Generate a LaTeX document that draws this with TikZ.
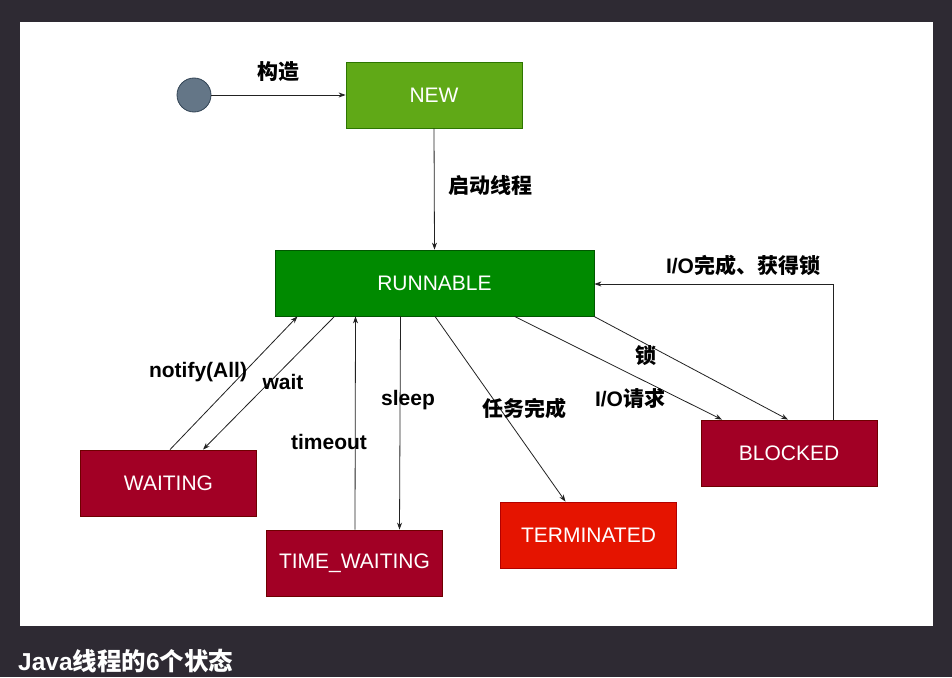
\documentclass[tikz,border=0pt]{standalone}
\usepackage{fontspec}
\setmainfont{Liberation Sans}
\newfontfamily\cjk{Noto Sans CJK SC}
\usetikzlibrary{arrows.meta}
\definecolor{bgdark}{HTML}{2E2A33}
\definecolor{newfill}{HTML}{60A917}
\definecolor{newdraw}{HTML}{2D7600}
\definecolor{runfill}{HTML}{008A00}
\definecolor{rundraw}{HTML}{005700}
\definecolor{waitfill}{HTML}{A20025}
\definecolor{waitdraw}{HTML}{6F0000}
\definecolor{termfill}{HTML}{E51400}
\definecolor{termdraw}{HTML}{B20000}
\definecolor{startfill}{HTML}{647687}
\definecolor{startdraw}{HTML}{314354}
\definecolor{edgecol}{HTML}{222222}
\begin{document}
\begin{tikzpicture}[x=1pt,y=-1pt,
  state/.style={draw=#1, line width=0.8pt, minimum width=176pt, minimum height=66pt, inner sep=0pt, text=white, font=\fontsize{21}{23}\selectfont},
  lbl/.style={font=\bfseries\fontsize{21}{23}\selectfont, text=black, inner sep=1pt},
  conn/.style={draw=edgecol, line width=0.8pt, -{Stealth[length=7pt,width=5pt]}}
]
\useasboundingbox (0,0) rectangle (952,677);
\fill[bgdark] (0,0) rectangle (952,677);
\fill[white] (20,22) rectangle (933,626);

\node[circle, draw=startdraw, fill=startfill, minimum size=34pt, inner sep=0pt, line width=0.8pt] (start) at (194,95) {};
\node[state=newdraw, fill=newfill] (new) at (434,95) {NEW};
\node[state=rundraw, fill=runfill, minimum width=319pt] (run) at (434.5,283) {RUNNABLE};
\node[state=waitdraw, fill=waitfill] (wait) at (168.5,483) {WAITING};
\node[state=waitdraw, fill=waitfill] (tw) at (354.5,563) {TIME\_WAITING};
\node[state=termdraw, fill=termfill] (term) at (588.5,535) {TERMINATED};
\node[state=waitdraw, fill=waitfill] (blk) at (789,453) {BLOCKED};

\coordinate (c1) at (833,284);

\draw[conn] (start) -- (new);
\draw[conn] (new.south) -- (run.north);
\draw[conn] ([xshift=1.5pt]wait.north) -- ([xshift=-137pt]run.south);
\draw[conn] ([xshift=-100pt]run.south) -- ([xshift=34.5pt]wait.north);
\draw[conn] ([xshift=0.5pt]tw.north) -- ([xshift=-79pt]run.south);
\draw[conn] ([xshift=-34pt]run.south) -- ([xshift=45pt]tw.north);
\draw[conn] ([xshift=0.5pt]run.south) -- ([xshift=-23pt]term.north);
\draw[conn] ([xshift=80pt]run.south) -- ([xshift=-67pt]blk.north);
\draw[conn] ([xshift=159.5pt]run.south) -- ([xshift=-1pt]blk.north);
\draw[conn] ([xshift=44pt]blk.north) |- (c1) -- (run.east |- c1);

\node[lbl] (l1) at (278,72) {\cjk 构造};
\node[lbl] (l2) at (490,186) {\cjk 启动线程};
\node[lbl] (l3) at (198,372) {notify(All)};
\node[lbl] (l4) at (283,382) {wait};
\node[lbl] (l5) at (329,442) {timeout};
\node[lbl] (l6) at (408,400) {sleep};
\node[lbl] (l7) at (524,408) {\cjk 任务完成};
\node[lbl] (l8) at (630,398) {I/O{\cjk 请求}};
\node[lbl] (l9) at (646,356) {\cjk 锁};
\node[lbl] (l10) at (743,265) {I/O{\cjk 完成、获得锁}};

\node[anchor=west, text=white, inner sep=0pt, font=\bfseries\fontsize{24.5}{26}\selectfont] (cap) at (18,661) {Java{\cjk 线程的}6{\cjk 个状态}};
\end{tikzpicture}
\end{document}
